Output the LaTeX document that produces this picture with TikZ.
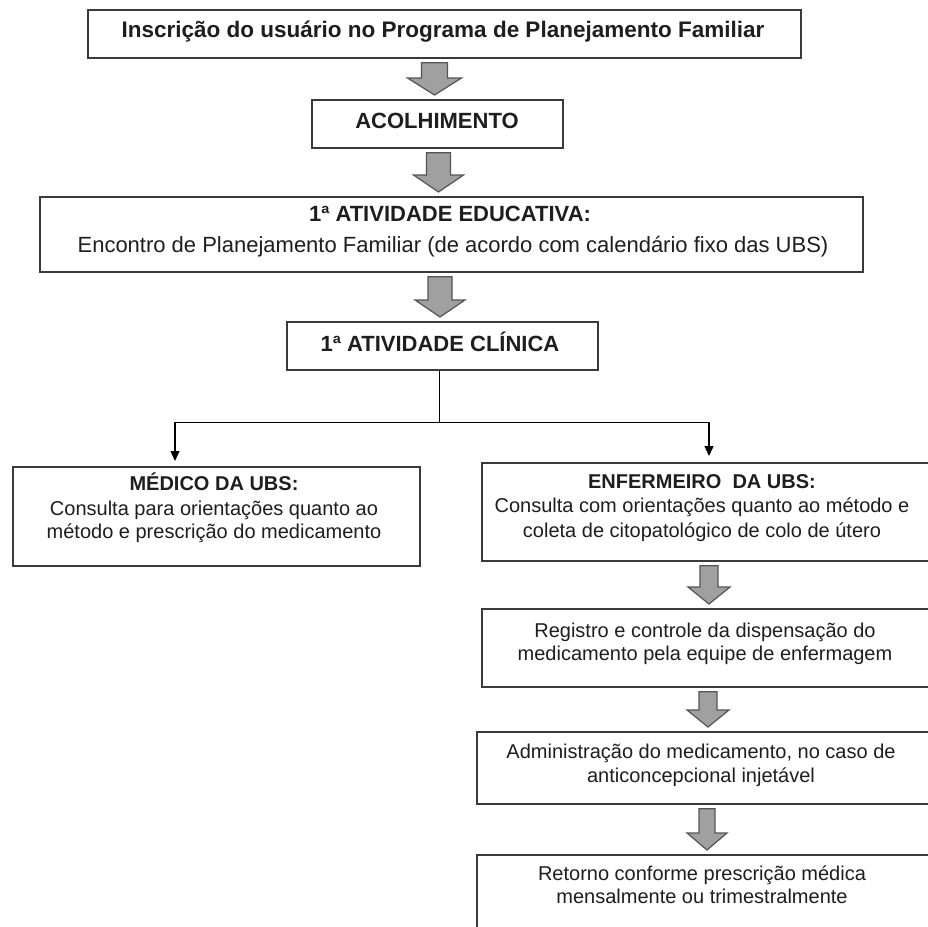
\documentclass[tikz,border=0pt]{standalone}
\usepackage{fontspec}
\setmainfont{Liberation Sans}
\usetikzlibrary{calc,arrows.meta}
\definecolor{boxline}{HTML}{3A3A3A}
\definecolor{arrfill}{HTML}{A0A0A0}
\definecolor{arrline}{HTML}{555555}
\definecolor{txt}{HTML}{1E1E1E}
\newcommand\mkbox[5]{\node[boxnode, minimum width=#4pt, minimum height=#5pt] (#1) at (#2,-#3) {};}
\newcommand\garrow[5]{%
 \draw[blockarr] let \p1=(#2.south), \p2=(#3.north) in
  ({#1pt-#4pt},{\y1-4pt}) -- ({#1pt+#4pt},{\y1-4pt}) -- ({#1pt+#4pt},{\y2+21pt}) --
  ({#1pt+#5pt},{\y2+21pt}) -- (#1pt,{\y2+4pt}) -- ({#1pt-#5pt},{\y2+21pt}) --
  ({#1pt-#4pt},{\y2+21pt}) -- cycle;}
\begin{document}
\begin{tikzpicture}[x=1pt,y=1pt,
 boxnode/.style={draw=boxline, line width=1.8pt, rectangle, inner sep=0pt, anchor=north west},
 lbl/.style={anchor=base, inner sep=0pt, text=txt},
 topb/.style={font=\fontsize{22.5}{26}\selectfont\bfseries},
 bigr/.style={font=\fontsize{22}{26}\selectfont},
 bigb/.style={font=\fontsize{22}{26}\selectfont\bfseries},
 medr/.style={font=\fontsize{20}{23}\selectfont},
 medb/.style={font=\fontsize{20}{23}\selectfont\bfseries},
 blockarr/.style={fill=arrfill, draw=arrline, line width=1.2pt, line join=miter},
 conn/.style={draw=black, line width=1.3pt},
 tip/.style={-{Triangle[length=10pt,width=9pt]}},
]
\useasboundingbox (0,0) rectangle (928,-926);
\clip (0,0) rectangle (928,-926);
\fill[white] (0,0) rectangle (928,-926);

% boxes
\mkbox{b1}{87}{9}{713}{48}
\mkbox{b2}{311}{99}{251}{48}
\mkbox{b3}{39}{196}{823}{75}
\mkbox{b4}{286}{321}{311}{48}
\mkbox{lb}{12}{466}{407}{99}
\mkbox{r1}{481}{462}{460}{98}
\mkbox{r2}{481}{608}{460}{78}
\mkbox{r3}{476}{731}{465}{72}
\mkbox{r4}{476}{854}{465}{90}

% texts
\node[lbl,topb] (t1) at (443,-37) {Inscrição do usuário no Programa de Planejamento Familiar};
\node[lbl,bigb] (t2) at (437,-128) {ACOLHIMENTO};
\node[lbl,bigb] (t3a) at (450,-221) {1ª ATIVIDADE EDUCATIVA:};
\node[lbl,bigr] (t3b) at (453,-252) {Encontro de Planejamento Familiar (de acordo com calendário fixo das UBS)};
\node[lbl,bigb] (t4) at (440,-351) {1ª ATIVIDADE CLÍNICA};
\node[lbl,medb] (l1) at (214,-490) {MÉDICO DA UBS:};
\node[lbl,medr] (l2) at (214,-515) {Consulta para orientações quanto ao};
\node[lbl,medr] (l3) at (214,-538) {método e prescrição do medicamento};
\node[lbl,medb] (e1) at (702,-488) {ENFERMEIRO \ DA UBS:};
\node[lbl,medr] (e2) at (702,-512) {Consulta com orientações quanto ao método e};
\node[lbl,medr] (e3) at (702,-537) {coleta de citopatológico de colo de útero};
\node[lbl,medr] (g1) at (705,-637) {Registro e controle da dispensação do};
\node[lbl,medr] (g2) at (705,-660) {medicamento pela equipe de enfermagem};
\node[lbl,medr] (a1) at (701,-758) {Administração do medicamento, no caso de};
\node[lbl,medr] (a2) at (701,-782) {anticoncepcional injetável};
\node[lbl,medr] (k1) at (702,-880) {Retorno conforme prescrição médica};
\node[lbl,medr] (k2) at (702,-903) {mensalmente ou trimestralmente};

% block arrows
\garrow{434.5}{b1}{b2}{13}{27}
\garrow{438.5}{b2}{b3}{12}{25}
\garrow{440}{b3}{b4}{12}{25}
\garrow{709}{r1}{r2}{9}{21}
\garrow{708}{r2}{r3}{9}{21}
\garrow{707}{r3}{r4}{8}{20}

% branching connector
\coordinate (bs) at ($(b4.south)+(-3,0)$);
\coordinate (jn) at ($(bs)+(0,-52)$);
\draw[conn] (bs) -- (jn);
\draw[conn,tip,shorten >=5pt] (jn) -| ($(lb.north west)+(163,0)$);
\draw[conn,tip,shorten >=6pt] (jn) -| ($(r1.north west)+(228,0)$);
\end{tikzpicture}
\end{document}
